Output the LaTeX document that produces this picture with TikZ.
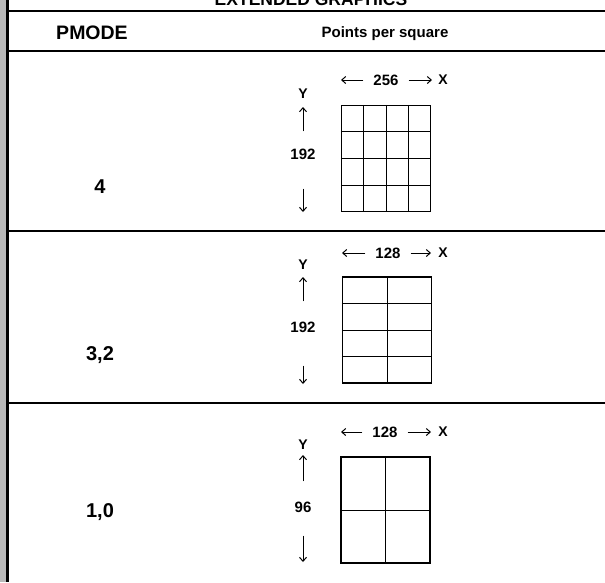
\documentclass[tikz,border=0pt]{standalone}
\usepackage{fontspec}
\setmainfont{Liberation Sans}
\usetikzlibrary{calc,arrows.meta}

\begin{document}
\begin{tikzpicture}[x=1pt, y=-1pt, >={Straight Barb[length=4pt,width=7pt]}]
	\tikzset{riga/.style={line width=1.6pt},
		quadro/.style={draw, line width=1.1pt, minimum width=89pt, minimum height=106pt, inner sep=0pt},
		griglia/.style={line width=1pt},
		modo/.style={font=\bfseries\fontsize{20}{22}\selectfont, inner sep=0pt},
		dimlab/.style={font=\bfseries\fontsize{15}{17}\selectfont, inner sep=0pt},
		asse/.style={font=\bfseries\fontsize{14}{16}\selectfont, inner sep=0pt},
		freccia/.style={->, line width=1pt}}
	
	\clip (0,0) rectangle (605,582);
	\fill[white] (0,0) rectangle (605,582);
	
	% margine sinistro
	\fill[gray!55] (0,0) rectangle (6,582);
	\draw[line width=2.4pt] (7.5,0) -- (7.5,582);
	
	% titolo tagliato e righe
	\node[anchor=base, inner sep=0pt, font=\bfseries\fontsize{17.5}{20}\selectfont] (titolo) at (311,5) {EXTENDED GRAPHICS};
	\draw[riga] (7.5,11) -- (605,11);
	\draw[riga] (7.5,51) -- (605,51);
	\draw[riga] (7.5,231) -- (605,231);
	\draw[riga] (7.5,403) -- (605,403);
	
	% intestazione
	\node[font=\bfseries\fontsize{19.5}{22}\selectfont, inner sep=0pt] (pmode) at (92,32.5) {PMODE};
	\node[dimlab] (punti) at (385,34) {Points per square};
	
	% PMODE 4
	\node[modo] (mA) at (100,187) {4};
	\node[quadro] (qA) at (386,158.5) {};
	\foreach \f in {0.25,0.5,0.75} {
		\draw[griglia] ($(qA.north west)!\f!(qA.north east)$) -- ($(qA.south west)!\f!(qA.south east)$);
		\draw[griglia] ($(qA.north west)!\f!(qA.south west)$) -- ($(qA.north east)!\f!(qA.south east)$);
	}
	\node[dimlab] (wA) at (386,80) {256};
	\node[asse] (xA) at (443,80) {X};
	\coordinate (wAl) at (341,80);
	\coordinate (wAr) at (432,80);
	\draw[freccia, shorten <=10pt] (wA) -- (wAl);
	\draw[freccia, shorten <=10pt] (wA) -- (wAr);
	\node[asse] (yA) at (303,94) {Y};
	\node[dimlab] (hA) at (303,154) {192};
	\coordinate (hAu) at (303,107);
	\coordinate (hAd) at (303,212);
	\draw[freccia, shorten <=17pt] (hA) -- (hAu);
	\draw[freccia, shorten <=29pt] (hA) -- (hAd);
	
	% PMODE 3,2
	\node[modo] (mB) at (100,355) {3,2};
	\node[quadro] (qB) at (387,330) {};
	\draw[griglia] (qB.north) -- (qB.south);
	\foreach \f in {0.25,0.5,0.75}
		\draw[griglia] ($(qB.north west)!\f!(qB.south west)$) -- ($(qB.north east)!\f!(qB.south east)$);
	\node[dimlab] (wB) at (388,253) {128};
	\node[asse] (xB) at (443,253) {X};
	\coordinate (wBl) at (342,253);
	\coordinate (wBr) at (431,253);
	\draw[freccia, shorten <=10pt] (wB) -- (wBl);
	\draw[freccia, shorten <=10pt] (wB) -- (wBr);
	\node[asse] (yB) at (303,265) {Y};
	\node[dimlab] (hB) at (303,327) {192};
	\coordinate (hBu) at (303,277);
	\coordinate (hBd) at (303,384);
	\draw[freccia, shorten <=20pt] (hB) -- (hBu);
	\draw[freccia, shorten <=33pt] (hB) -- (hBd);
	
	% PMODE 1,0
	\node[modo] (mC) at (100,512) {1,0};
	\node[quadro] (qC) at (385.5,510) {};
	\draw[griglia] (qC.north) -- (qC.south);
	\draw[griglia] (qC.west) -- (qC.east);
	\node[dimlab] (wC) at (385,432) {128};
	\node[asse] (xC) at (443,432) {X};
	\coordinate (wCl) at (341,432);
	\coordinate (wCr) at (431,432);
	\draw[freccia, shorten <=10pt] (wC) -- (wCl);
	\draw[freccia, shorten <=10pt] (wC) -- (wCr);
	\node[asse] (yC) at (303,445) {Y};
	\node[dimlab] (hC) at (303,507) {96};
	\coordinate (hCu) at (303,455);
	\coordinate (hCd) at (303,562);
	\draw[freccia, shorten <=20pt] (hC) -- (hCu);
	\draw[freccia, shorten <=23pt] (hC) -- (hCd);
\end{tikzpicture}
\end{document}
